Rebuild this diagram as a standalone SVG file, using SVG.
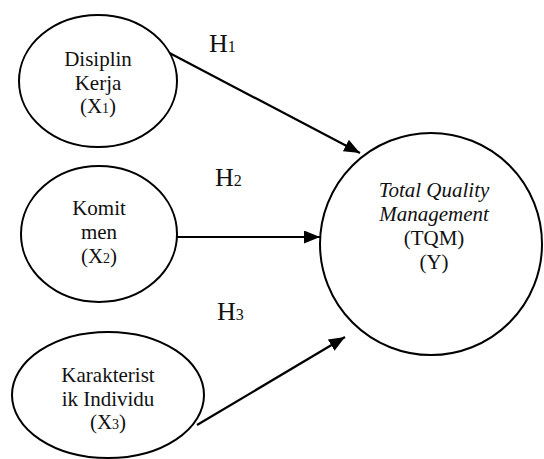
<svg xmlns="http://www.w3.org/2000/svg" width="544" height="459" viewBox="0 0 544 459">
<style>
.n{fill:#fff;stroke:#000;stroke-width:2}
.t{font-size:21px;fill:#111;text-anchor:middle}
.h{font-size:26px;fill:#111}
.c{stroke:#000;stroke-width:2.2;fill:none}
</style>
<defs>
<marker id="ah" markerUnits="userSpaceOnUse" markerWidth="18" markerHeight="14" refX="16" refY="6.5" orient="auto">
<path d="M0,0 L16,6.5 L0,13 z" fill="#000"/>
</marker>
</defs>
<rect width="544" height="459" fill="#fff"/>
<g font-family="'Liberation Serif', 'Times New Roman', serif">
<g id="connectors">
<line class="c" x1="160" y1="48" x2="360" y2="153" marker-end="url(#ah)"/>
<line class="c" x1="177" y1="237" x2="320" y2="237" marker-end="url(#ah)"/>
<line class="c" x1="197" y1="425" x2="345" y2="337" marker-end="url(#ah)"/>
</g>
<g id="x1">
<ellipse class="n" cx="98" cy="81" rx="79" ry="66"/>
<text class="t" x="98" y="66">Disiplin</text>
<text class="t" x="98" y="90">Kerja</text>
<text class="t" x="98" y="113">(X<tspan font-size="14">1</tspan>)</text>
</g>
<g id="x2">
<ellipse class="n" cx="99" cy="234" rx="78" ry="68"/>
<text class="t" x="99" y="215">Komit</text>
<text class="t" x="99" y="239">men</text>
<text class="t" x="99" y="263">(X<tspan font-size="14">2</tspan>)</text>
</g>
<g id="x3">
<ellipse class="n" cx="108" cy="395" rx="96" ry="63"/>
<text class="t" x="108" y="382">Karakterist</text>
<text class="t" x="108" y="406">ik Individu</text>
<text class="t" x="108" y="429">(X<tspan font-size="14">3</tspan>)</text>
</g>
<g id="y">
<circle class="n" cx="431" cy="244" r="111"/>
<text class="t" x="434" y="197" font-style="italic">Total Quality</text>
<text class="t" x="434" y="221" font-style="italic">Management</text>
<text class="t" x="434" y="245">(TQM)</text>
<text class="t" x="434" y="269">(Y)</text>
</g>
<g id="labels">
<text class="h" x="209" y="52">H<tspan font-size="16">1</tspan></text>
<text class="h" x="215" y="186">H<tspan font-size="16">2</tspan></text>
<text class="h" x="217" y="320">H<tspan font-size="16">3</tspan></text>
</g>
</g>
</svg>
